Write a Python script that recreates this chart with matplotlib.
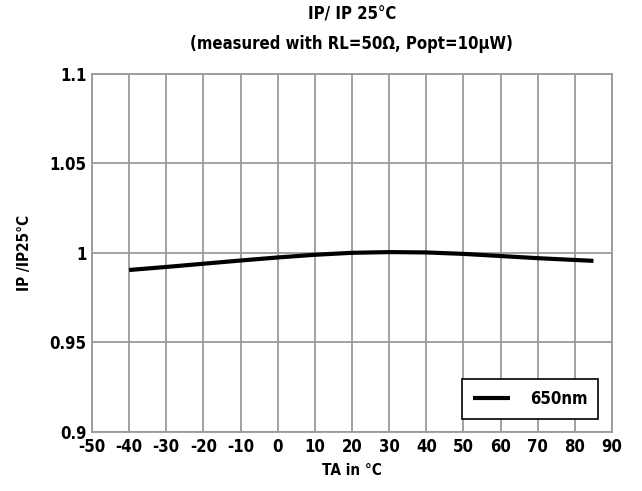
import matplotlib
matplotlib.use("Agg")
import matplotlib.pyplot as plt

temps = [-40, -30, -20, -10, 0, 10, 20, 30, 40, 50, 60, 70, 80, 85]
ratio = [0.9905, 0.9922, 0.9940, 0.9958, 0.9975, 0.9990, 1.0001, 1.0005, 1.0003, 0.9995, 0.9983, 0.9971, 0.9961, 0.9956]
xticks = list(range(-50, 91, 10))
yticks = [0.9, 0.95, 1.0, 1.05, 1.1]
ytick_labels = ["0.9", "0.95", "1", "1.05", "1.1"]

plt.rcParams['font.family'] = ['DejaVu Sans']
plt.rcParams['font.weight'] = 'bold'
plt.rcParams['font.stretch'] = 'condensed'

fig = plt.figure(figsize=(6.42, 4.91), dpi=100)
ax = fig.add_axes([0.1433, 0.1202, 0.81, 0.7291])
ax.plot(temps, ratio, color='black', lw=3, label='650nm', solid_capstyle='butt')
ax.set_xlim(-50, 90)
ax.set_ylim(0.9, 1.1)
ax.set_xticks(xticks)
ax.set_xticklabels([str(t) for t in xticks])
ax.set_yticks(yticks)
ax.set_yticklabels(ytick_labels)
ax.grid(True, color='#9a9a9a', lw=1.3)
ax.set_axisbelow(True)
for s in ax.spines.values():
    s.set_color('#9a9a9a')
    s.set_linewidth(1.3)
ax.tick_params(length=0, labelsize=12, pad=4)
for lab in ax.get_xticklabels() + ax.get_yticklabels():
    lab.set_fontweight('bold')
    lab.set_fontstretch('condensed')
ax.set_xlabel('TA in °C', fontsize=11, fontweight='bold', fontstretch='condensed')
ax.set_ylabel('IP /IP25°C', fontsize=11, fontweight='bold', fontstretch='condensed')
ax.yaxis.set_label_coords(-0.115, 0.5)
ax.xaxis.set_label_coords(0.5, -0.088)
fig.text(0.548, 0.970, 'IP/ IP 25°C', ha='center', va='center', fontsize=12, fontweight='bold', fontstretch='condensed')
fig.text(0.548, 0.910, '(measured with RL=50Ω, Popt=10µW)', ha='center', va='center', fontsize=12, fontweight='bold', fontstretch='condensed')
leg = ax.legend(loc='lower right', bbox_to_anchor=(0.9735, 0.036), frameon=True, fancybox=False,
                edgecolor='black', framealpha=1, fontsize=12, handlelength=2.2,
                borderpad=0.65, handletextpad=1.2, borderaxespad=0)
leg.get_frame().set_linewidth(1.2)
for t in leg.get_texts():
    t.set_fontweight('bold')
    t.set_fontstretch('condensed')
fig.savefig('out.png', dpi=100)
